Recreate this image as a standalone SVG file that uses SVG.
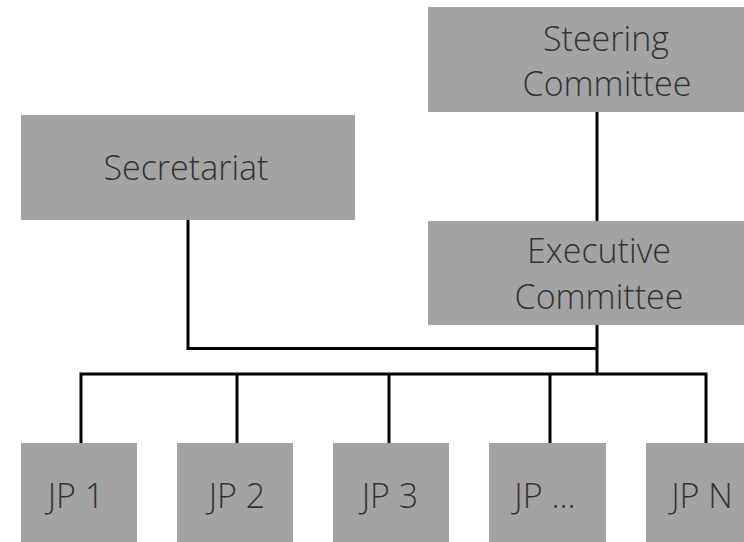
<svg xmlns="http://www.w3.org/2000/svg" width="744" height="542" viewBox="0 0 744 542">
<style>
.box{fill:#a3a3a3}
.t{font-family:"Open Sans","Liberation Sans",sans-serif;font-weight:300;font-size:34px;fill:#333;text-anchor:middle}
.c{fill:none;stroke:#000;stroke-width:3}
</style>
<rect width="744" height="542" fill="#fff"/>
<g id="connectors">
<path class="c" d="M597 112V221"/>
<path class="c" d="M188 220V348.5H597"/>
<path class="c" d="M597 325V374"/>
<path class="c" d="M81 443V374H706V443"/>
<path class="c" d="M237 374V443"/>
<path class="c" d="M389 374V443"/>
<path class="c" d="M550 374V443"/>
</g>
<g id="steering"><rect class="box" x="428" y="7" width="330" height="105"/><text class="t" x="606" y="51">Steering</text><text class="t" x="607" y="96">Committee</text></g>
<g id="secretariat"><rect class="box" x="21" y="115" width="334" height="105"/><text class="t" x="186" y="180">Secretariat</text></g>
<g id="executive"><rect class="box" x="428" y="221" width="330" height="104"/><text class="t" x="599" y="263">Executive</text><text class="t" x="599" y="309">Committee</text></g>
<g id="jp1"><rect class="box" x="21" y="443" width="116" height="110"/><text class="t" x="76" y="508">JP 1</text></g>
<g id="jp2"><rect class="box" x="177" y="443" width="116" height="110"/><text class="t" x="237" y="508">JP 2</text></g>
<g id="jp3"><rect class="box" x="333" y="443" width="116" height="110"/><text class="t" x="390" y="508">JP 3</text></g>
<g id="jpdots"><rect class="box" x="489" y="443" width="117" height="110"/><text class="t" x="545" y="508">JP ...</text></g>
<g id="jpn"><rect class="box" x="646" y="443" width="110" height="110"/><text class="t" x="702" y="508">JP N</text></g>
</svg>
